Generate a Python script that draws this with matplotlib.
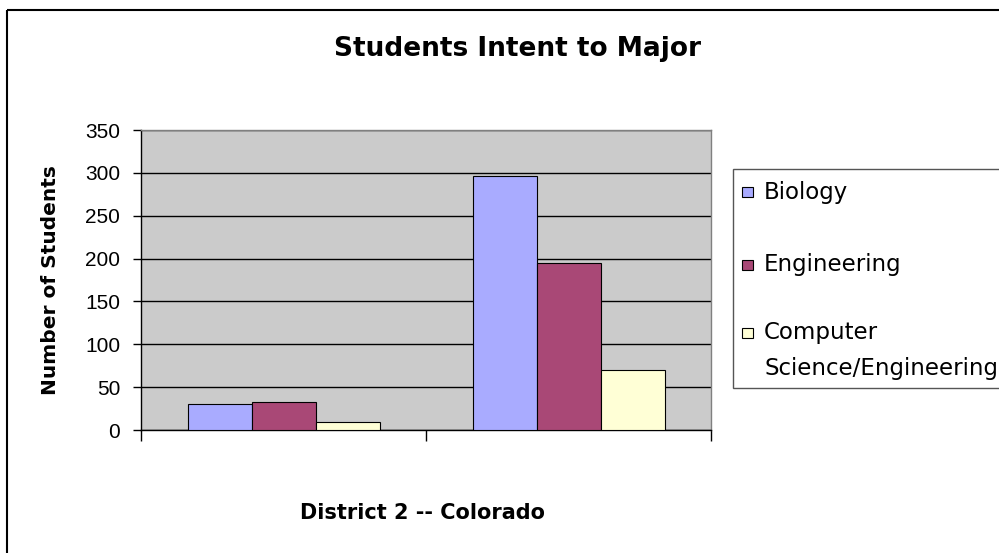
import matplotlib
matplotlib.use("Agg")
import matplotlib.pyplot as plt
from matplotlib.patches import Rectangle
import numpy as np

plt.rcParams['font.family'] = ['Liberation Sans', 'DejaVu Sans']

# data
categories = ["", ""]
series_names = ["Biology", "Engineering", "Computer\nScience/Engineering"]
biology = [30, 296]
engineering = [33, 195]
computer_sci = [9, 70]
colors = ["#A9ABFF", "#A94876", "#FFFFD6"]
yticks = [0, 50, 100, 150, 200, 250, 300, 350]

W, H = 999, 553
fig = plt.figure(figsize=(W / 100, H / 100), dpi=100)

# plot area in pixel coords
L, R, T, B = 141, 711, 130, 430
ax = fig.add_axes([L / W, (H - B) / H, (R - L) / W, (B - T) / H])
ax.set_facecolor("#CBCBCB")

x = np.arange(len(categories))
bw = 64 / 285.0
values = [biology, engineering, computer_sci]
for i, (vals, c) in enumerate(zip(values, colors)):
    ax.bar(x + (i - 1) * bw, vals, width=bw, color=c, edgecolor="black",
           linewidth=0.8, zorder=3)

ax.set_xlim(-0.5, len(categories) - 0.5)
ax.set_ylim(0, 350)
ax.set_yticks(yticks)
ax.set_yticklabels([str(v) for v in yticks], fontsize=15)
ax.set_xticks([-0.5, 0.5, 1.5])
ax.set_xticklabels([])
ax.tick_params(axis='x', length=8, width=1, direction='out', color='black')
ax.tick_params(axis='y', length=6, width=1, direction='out', color='black', pad=9)
ax.yaxis.grid(True, color='black', linewidth=1, zorder=1)
ax.set_axisbelow(True)
for s in ['top', 'right']:
    ax.spines[s].set_color('#808080')
    ax.spines[s].set_linewidth(1)
for s in ['left', 'bottom']:
    ax.spines[s].set_color('black')
    ax.spines[s].set_linewidth(1)

# overlay for border, titles and legend
ov = fig.add_axes([0, 0, 1, 1], zorder=-1)
ov.set_xlim(0, W)
ov.set_ylim(H, 0)
ov.axis('off')
ov.add_patch(Rectangle((7, 10), 1100, 600, fill=False, edgecolor='black', linewidth=1.5))

top = fig.add_axes([0, 0, 1, 1], zorder=5)
top.set_xlim(0, W)
top.set_ylim(H, 0)
top.axis('off')
top.patch.set_alpha(0)

wide = ['DejaVu Sans']
top.text(518, 49, "Students Intent to Major", ha='center', va='center',
         fontsize=19, fontweight='bold', family=wide)
top.text(423, 513, "District 2 -- Colorado", ha='center', va='center',
         fontsize=15, fontweight='bold', family=wide)
top.text(51, 280, "Number of Students", ha='center', va='center',
         rotation=90, fontsize=14.5, fontweight='bold', family=wide)

# legend
top.add_patch(Rectangle((733, 169), 300, 219, facecolor='white',
                        edgecolor='#555555', linewidth=1))
leg_y = [192, 265, 333]
for name, c, yy in zip(series_names, colors, leg_y):
    top.add_patch(Rectangle((742, yy - 5), 11, 10, facecolor=c,
                            edgecolor='black', linewidth=0.8))
    for k, ln in enumerate(name.split("\n")):
        top.text(764, yy + k * 35, ln, ha='left', va='center',
                 fontsize=16.5, family=wide)

fig.savefig("out.png", dpi=100)
